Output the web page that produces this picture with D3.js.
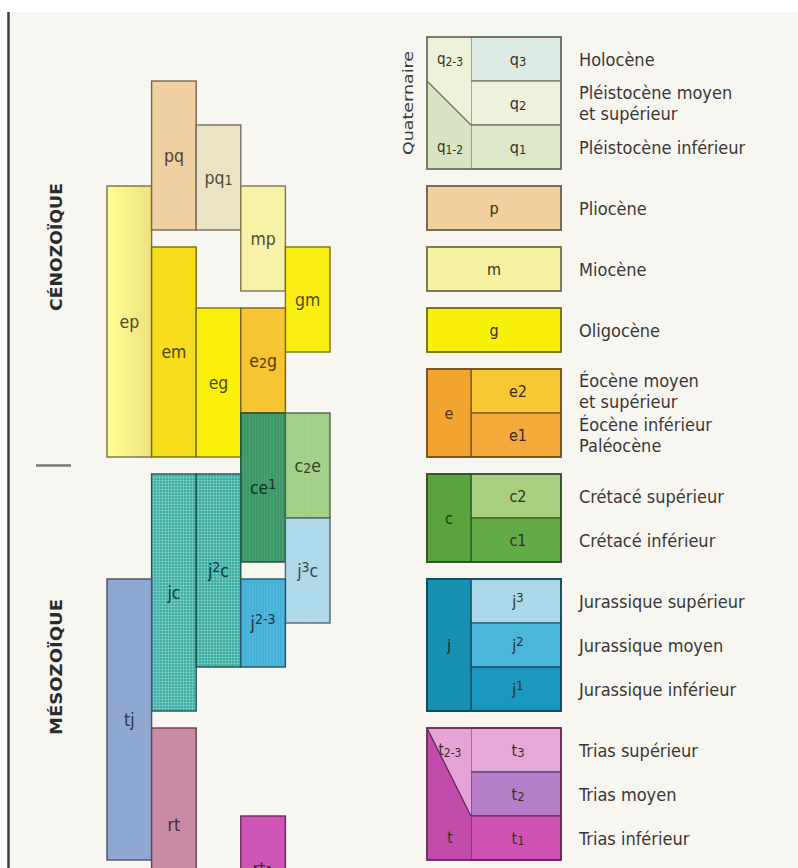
<!DOCTYPE html>
<html>
<head>
<meta charset="utf-8">
<script src="https://cdn.jsdelivr.net/npm/d3@7"></script>
<style>
  html, body { margin: 0; padding: 0; background: #fff; }
  svg { display: block; font-family: "DejaVu Sans Condensed", "Liberation Sans Narrow", sans-serif; }
</style>
</head>
<body>
<svg id="chart" width="798" height="868"></svg>
<script>
// stages, top to bottom (r = below the picture)
const stages     = ["q3", "q2", "q1", "p", "m", "g", "e2", "e1", "c2", "c1", "j3", "j2", "j1", "t3", "t2", "t1", "r"];
const stageGroup = ["q",  "q",  "q",  "p", "m", "g", "e",  "e",  "c",  "c",  "j",  "j",  "j",  "t",  "t",  "t",  "r"];
const stageLabel = ["q_3", "q_2", "q_1", "p", "m", "g", "e2", "e1", "c2", "c1", "j^3", "j^2", "j^1", "t_3", "t_2", "t_1", ""];
const stageName  = ["Holocène", "Pléistocène moyen\net supérieur", "Pléistocène inférieur",
  "Pliocène", "Miocène", "Oligocène",
  "Éocène moyen\net supérieur", "Éocène inférieur\nPaléocène",
  "Crétacé supérieur", "Crétacé inférieur",
  "Jurassique supérieur", "Jurassique moyen", "Jurassique inférieur",
  "Trias supérieur", "Trias moyen", "Trias inférieur", ""];

const legendGroups = ["q", "p", "m", "g", "e", "c", "j", "t"];

// groups with a full-height left cell
const sideGroups = ["e", "c", "j"];
const sideLabels = ["e", "c", "j"];

// groups whose left cell is cut by a diagonal
const splitGroups = ["q", "t"];
const splitUpper  = ["q_2-3", "t_2-3"];
const splitLower  = ["q_1-2", "t"];
const splitFrom   = ["q2", "t3"];   // diagonal starts at top of this stage (left edge)
const splitTo     = ["q2", "t2"];   // and ends at bottom of this stage (divider)

// left chart: formations
const bars      = ["ep", "pq", "pq_1", "mp", "em", "gm", "eg", "e_2g", "ce^1", "c_2e", "j^3c", "jc", "j^2c", "j^2-3", "tj", "rt", "rt_1"];
const barColumn = [0, 1, 2, 3, 1, 4, 2, 3, 3, 4, 4, 1, 2, 3, 0, 1, 3];
const barTop    = ["p", "q2", "q1", "p", "m", "m", "g", "g", "e1", "e1", "c1", "c2", "c2", "j3", "j3", "t3", "t1"];
const barBottom = ["e1", "p", "p", "m", "e1", "g", "e1", "e2", "c1", "c2", "j3", "j1", "j2", "j2", "t1", "r", "r"];

const eras    = ["CÉNOZOÏQUE", "MÉSOZOÏQUE"];
const eraFrom = ["q3", "c2"];
const eraTo   = ["e1", "t1"];

// colours
const colors = {
  q3: "#dcebe3", q2: "#eef2dc", q1: "#dbe7c6", "q_2-3": "#edf1da", "q_1-2": "#d9e5c2",
  p: "#f1cf9f", m: "#f7f1a2", g: "#f9ef0c",
  e: "#f3a330", e2: "#f8c834", e1: "#f5a93b",
  c: "#59a43f", c2: "#a6d080", c1: "#63ab47",
  j: "#1890b1", j3: "#aad8e8", j2: "#4ab6d8", j1: "#1a97bc",
  "t_2-3": "#e5a3d7", t: "#c04ba8", t3: "#e6a8d9", t2: "#b67ec7", t1: "#cf52b3",
  ep: "#f6e683", pq: "#f0cfa0", "pq_1": "#ebe3c3", mp: "#f8f2a8", em: "#f7dc1c",
  gm: "#f9ef12", eg: "#fbef0c", "e_2g": "#f6c533", "ce^1": "#3d9868", "c_2e": "#a1cf86",
  "j^3c": "#acd8ea", jc: "#3fb1a6", "j^2c": "#3caea4", "j^2-3": "#45b1d7",
  tj: "#8ea8d1", rt: "#c98aa6", "rt_1": "#cf56b6"
};
const textures = { jc: "grid", "j^2c": "grid", "ce^1": "stripe", "c_2e": "stripe", "j^3c": "stripe", "j^2-3": "stripe", ep: "fade" };

const svg = d3.select("#chart");
const W = 798, H = 868;
const defs = svg.append("defs");

svg.append("rect").attr("x", 8).attr("y", 12).attr("width", W - 8).attr("height", H - 12).attr("fill", "#f8f6f0");
svg.append("line").attr("x1", 8.5).attr("x2", 8.5).attr("y1", 12).attr("y2", H)
  .attr("stroke", "#3f3f3f").attr("stroke-width", 2.5);

// vertical positions: one unit per stage, a gap between groups
const GAP = 17 / 44;
const sTop = {}, sBot = {};
let u = 0;
stages.forEach((s, i) => {
  if (i > 0 && stageGroup[i] !== stageGroup[i - 1]) u += GAP;
  sTop[s] = u; u += 1; sBot[s] = u;
});
const y = d3.scaleLinear().domain([0, sBot.t1]).range([37, 860]);
const x = d3.scaleBand().domain(d3.range(5)).range([107, 330]);

function rich(text, str, size) {
  const re = /([_^])([0-9\-]+)|([^_^]+)/g;
  let m, shift = 0;
  while ((m = re.exec(str))) {
    let s = 0, fs = size, t = m[3];
    if (!m[3]) { t = m[2]; fs = size * 0.8; s = m[1] === "^" ? -size * 0.3 : size * 0.08; }
    text.append("tspan").attr("font-size", fs).attr("dy", s - shift).text(t);
    shift = s;
  }
}
function label(g, str, cx, cy, size, fill) {
  const t = g.append("text").attr("x", cx).attr("y", cy + size * 0.36)
    .attr("text-anchor", "middle").attr("font-size", size).attr("fill", fill);
  rich(t, str, size);
}
const edge = c => d3.color(c).darker(2).formatHex();

// textures
Object.entries(textures).forEach(([k, kind], i) => {
  const id = "tx" + i, c = colors[k];
  if (kind === "fade") {
    const lg = defs.append("linearGradient").attr("id", id);
    lg.append("stop").attr("offset", "0%").attr("stop-color", d3.color(c).brighter(0.3));
    lg.append("stop").attr("offset", "100%").attr("stop-color", d3.color(c).darker(0.08));
  } else {
    const p = defs.append("pattern").attr("id", id).attr("width", 3).attr("height", 3)
      .attr("patternUnits", "userSpaceOnUse");
    p.append("rect").attr("width", 3).attr("height", 3).attr("fill", c);
    p.append("rect").attr("width", 1).attr("height", 3).attr("fill", "#fff").attr("opacity", kind === "grid" ? 0.2 : 0.07);
    if (kind === "grid") p.append("rect").attr("width", 3).attr("height", 1).attr("fill", "#fff").attr("opacity", 0.2);
  }
  textures[k] = "url(#" + id + ")";
});

// left chart
const left = svg.append("g");
bars.forEach((b, i) => {
  const y0 = y(sTop[barTop[i]]), y1 = y(sBot[barBottom[i]]);
  left.append("rect").attr("x", x(barColumn[i])).attr("y", y0)
    .attr("width", x.bandwidth()).attr("height", y1 - y0)
    .attr("fill", textures[b] || colors[b])
    .attr("stroke", edge(colors[b])).attr("stroke-width", 1.4);
});
bars.forEach((b, i) => {
  const y0 = y(sTop[barTop[i]]), y1 = y(sBot[barBottom[i]]);
  label(left, b, x(barColumn[i]) + x.bandwidth() / 2, (y0 + y1) / 2, 17.5, d3.color(colors[b]).darker(3.2));
});

// eras
eras.forEach((e, i) => {
  const cy = (y(sTop[eraFrom[i]]) + y(sBot[eraTo[i]])) / 2;
  svg.append("text").attr("transform", `translate(62,${cy}) rotate(-90)`)
    .attr("text-anchor", "middle").attr("font-size", 16).attr("font-weight", "bold")
    .attr("fill", "#2b2b2b").attr("textLength", i === 0 ? 128 : 136).attr("lengthAdjust", "spacingAndGlyphs")
    .text(e);
});
const bY = (y(sBot[eraTo[0]]) + y(sTop[eraFrom[1]])) / 2;
svg.append("line").attr("x1", 36).attr("x2", 71).attr("y1", bY).attr("y2", bY)
  .attr("stroke", "#7a7a7a").attr("stroke-width", 2.5);

// legend
const LX0 = 427, LX1 = 471, LX2 = 561, TX = 579;
const leg = svg.append("g");
legendGroups.forEach(gc => {
  const rows = stages.filter((s, i) => stageGroup[i] === gc);
  const gy0 = y(sTop[rows[0]]), gy1 = y(sBot[rows[rows.length - 1]]);
  const si = sideGroups.indexOf(gc), pi = splitGroups.indexOf(gc);
  const multi = si >= 0 || pi >= 0;
  const rx0 = multi ? LX1 : LX0;
  const lines = leg.append("g"), texts = leg.append("g");
  rows.forEach(s => {
    const c = colors[s];
    lines.append("rect").attr("x", rx0).attr("y", y(sTop[s])).attr("width", LX2 - rx0)
      .attr("height", y(sBot[s]) - y(sTop[s])).attr("fill", c)
      .attr("stroke", edge(c)).attr("stroke-width", 1.2);
    label(texts, stageLabel[stages.indexOf(s)], (rx0 + LX2) / 2 + (multi ? 2 : 0), (y(sTop[s]) + y(sBot[s])) / 2, 16, "#353020");
  });
  const lc = (LX0 + LX1) / 2;
  if (si >= 0) {
    const c = colors[gc];
    lines.append("rect").attr("x", LX0).attr("y", gy0).attr("width", LX1 - LX0).attr("height", gy1 - gy0)
      .attr("fill", c).attr("stroke", edge(c)).attr("stroke-width", 1.2);
    label(texts, sideLabels[si], lc, (gy0 + gy1) / 2, 16, d3.color(c).darker(3));
  }
  if (pi >= 0) {
    const ya = y(sTop[splitFrom[pi]]), yb = y(sBot[splitTo[pi]]);
    const cu = colors[splitUpper[pi]], cl = colors[splitLower[pi]];
    lines.append("path").attr("d", `M${LX0},${gy0}H${LX1}V${yb}L${LX0},${ya}Z`).attr("fill", cu);
    lines.append("path").attr("d", `M${LX0},${ya}L${LX1},${yb}V${gy1}H${LX0}Z`).attr("fill", cl);
    lines.append("line").attr("x1", LX0).attr("y1", ya).attr("x2", LX1).attr("y2", yb)
      .attr("stroke", edge(cl)).attr("stroke-width", 1.2);
    const r0 = rows[0], r1 = rows[rows.length - 1];
    label(texts, splitUpper[pi], lc + 1, (y(sTop[r0]) + y(sBot[r0])) / 2, 15, "#353020");
    label(texts, splitLower[pi], lc + 1, (y(sTop[r1]) + y(sBot[r1])) / 2, 15, "#353020");
  }
  lines.append("rect").attr("x", LX0).attr("y", gy0).attr("width", LX2 - LX0).attr("height", gy1 - gy0)
    .attr("fill", "none").attr("stroke", edge(colors[rows[rows.length - 1]])).attr("stroke-width", 1.8);
  // descriptions
  rows.forEach(s => {
    const parts = stageName[stages.indexOf(s)].split("\n");
    const cy = (y(sTop[s]) + y(sBot[s])) / 2;
    parts.forEach((p, k) => {
      leg.append("text").attr("x", TX).attr("y", cy + (k - (parts.length - 1) / 2) * 21 + 6.5)
        .attr("font-size", 18).attr("fill", "#383838").text(p);
    });
  });
});

// Quaternaire
svg.append("text").attr("transform", `translate(413,${(y(sTop.q3) + y(sBot.q1)) / 2}) rotate(-90)`)
  .attr("text-anchor", "middle").attr("font-size", 14).attr("fill", "#3b3b3b")
  .attr("textLength", 104).attr("lengthAdjust", "spacingAndGlyphs").text("Quaternaire");
</script>
</body>
</html>
